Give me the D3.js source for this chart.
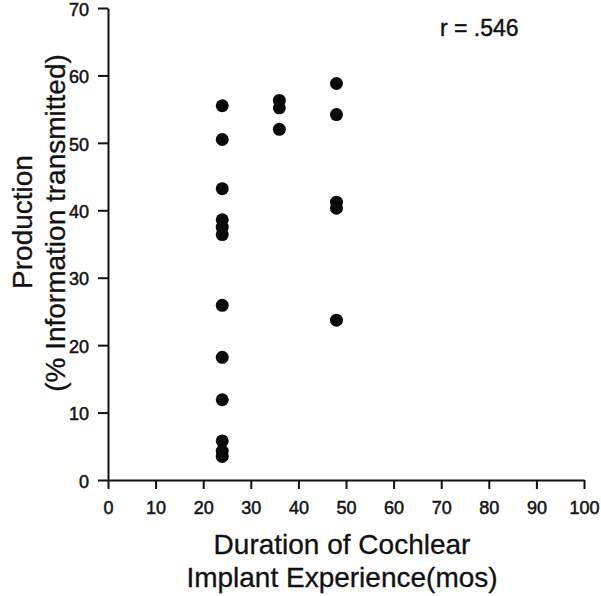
<!DOCTYPE html>
<html lang="en">
<head>
    <meta charset="UTF-8">
    <title>Production vs Duration of Cochlear Implant Experience</title>
    <script src="https://d3js.org/d3.v7.min.js"></script>
    <style>
        body {
            margin: 0;
            background: #fff;
            font-family: "Liberation Sans", Arial, sans-serif;
        }
        svg { display: block; }
        .axis path, .axis line {
            stroke: #111;
            stroke-width: 2px;
        }
        .axis text {
            font-family: "Liberation Sans", Arial, sans-serif;
            font-size: 18px;
            fill: #111;
            stroke: #111;
            stroke-width: 0.5px;
        }
        .title {
            font-size: 28px;
            fill: #111;
            stroke: #111;
            stroke-width: 0.3px;
        }
    </style>
</head>
<body>
<div class="viz"></div>
<script>
    // months of implant experience and % information transmitted
    const months24 = [55.5, 50.5, 43.2, 38.6, 37.5, 36.4, 25.9, 18.2, 11.9, 5.8, 4.3, 3.5];
    const months36 = [56.3, 55.2, 52.0];
    const months48 = [58.8, 54.2, 41.2, 40.3, 23.7];

    const xTicks = [0, 10, 20, 30, 40, 50, 60, 70, 80, 90, 100];
    const yTicks = [0, 10, 20, 30, 40, 50, 60, 70];

    const points = [
        ...months24.map(v => ({ x: 24, y: v })),
        ...months36.map(v => ({ x: 36, y: v })),
        ...months48.map(v => ({ x: 48, y: v }))
    ];

    const width = 601, height = 596;
    const margin = { left: 108, right: 17, top: 8, bottom: 116 };

    const svg = d3.select('.viz').append('svg')
        .attr('width', width)
        .attr('height', height);

    const x = d3.scaleLinear().domain([0, 100])
        .range([margin.left, width - margin.right]);
    const y = d3.scaleLinear().domain([0, 70])
        .range([height - margin.bottom, margin.top]);

    svg.append('g')
        .attr('class', 'axis')
        .attr('transform', `translate(0,${y(0)})`)
        .call(d3.axisBottom(x).tickValues(xTicks).tickSize(9).tickSizeOuter(0).tickPadding(11))
        .call(g => g.selectAll('text').attr('dy', '0.78em'));

    svg.append('g')
        .attr('class', 'axis')
        .attr('transform', `translate(${x(0)},0)`)
        .call(d3.axisLeft(y).tickValues(yTicks).tickSize(10).tickSizeOuter(0).tickPadding(9))
        .call(g => g.selectAll('text').attr('dy', '0.4em'));

    svg.append('g')
        .selectAll('circle')
        .data(points)
        .enter().append('circle')
        .attr('cx', d => x(d.x))
        .attr('cy', d => y(d.y))
        .attr('r', 6.5)
        .attr('fill', '#0a0a0a');

    svg.append('text')
        .attr('class', 'title')
        .attr('x', 342)
        .attr('y', 554)
        .attr('text-anchor', 'middle')
        .text('Duration of Cochlear');

    svg.append('text')
        .attr('class', 'title')
        .attr('x', 342)
        .attr('y', 587)
        .attr('text-anchor', 'middle')
        .text('Implant Experience(mos)');

    svg.append('text')
        .attr('class', 'title')
        .attr('transform', 'translate(32,222) rotate(-90)')
        .attr('text-anchor', 'middle')
        .text('Production');

    svg.append('text')
        .attr('class', 'title')
        .attr('transform', 'translate(65,223) rotate(-90)')
        .attr('text-anchor', 'middle')
        .text('(% Information transmitted)');

    svg.append('text')
        .attr('x', 440)
        .attr('y', 36)
        .attr('font-size', 23)
        .attr('fill', '#111')
        .attr('stroke', '#111')
        .attr('stroke-width', 0.4)
        .text('r = .546');
</script>
</body>
</html>
